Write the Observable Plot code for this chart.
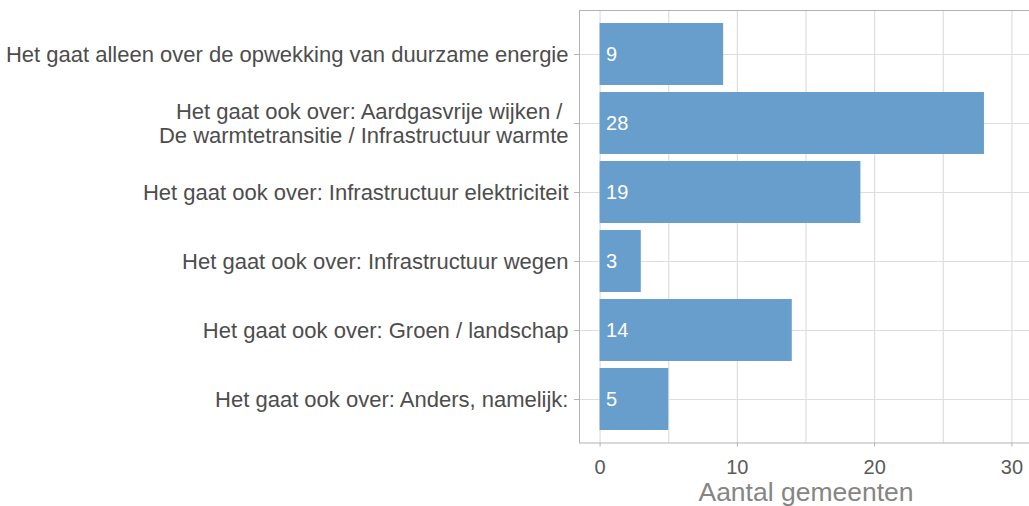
<!DOCTYPE html>
<html>
<head>
<meta charset="utf-8">
<script src="https://cdn.jsdelivr.net/npm/d3@7"></script>
<script src="https://cdn.jsdelivr.net/npm/@observablehq/plot@0.6"></script>
<style>
  html, body { margin: 0; padding: 0; background: #fff; overflow: hidden; }
  #chart svg { display: block; }
</style>
</head>
<body>
<div id="chart"></div>
<script>
const categories = [
  "Het gaat alleen over de opwekking van duurzame energie",
  "Het gaat ook over: Aardgasvrije wijken /\u00a0\nDe warmtetransitie / Infrastructuur warmte",
  "Het gaat ook over: Infrastructuur elektriciteit",
  "Het gaat ook over: Infrastructuur wegen",
  "Het gaat ook over: Groen / landschap",
  "Het gaat ook over: Anders, namelijk:"
];
const values = [9, 28, 19, 3, 14, 5];
const xTicks = [0, 10, 20, 30];
const xGrid = [0, 5, 10, 15, 20, 25, 30];
const xTitle = "Aantal gemeenten";

const data = categories.map((c, i) => ({category: c, value: values[i]}));

const font = "'Liberation Sans', Arial, sans-serif";
const chart = Plot.plot({
  width: 1029,
  height: 506,
  marginLeft: 579,
  marginRight: -3,
  marginTop: 10,
  marginBottom: 63.5,
  style: {fontFamily: font, background: "#ffffff", overflow: "hidden"},
  x: {domain: [-1.5, 31.5]},
  y: {domain: categories, paddingInner: 0.1, paddingOuter: 0.15},
  marks: [
    Plot.ruleX(xGrid, {stroke: "#dedede", strokeWidth: 1.2}),
    Plot.ruleY(categories, {y: d => d, stroke: "#dedede", strokeWidth: 1.2}),
    Plot.barX(data, {x1: 0, x2: "value", y: "category", fill: "#679ecb"}),
    Plot.text(data, {x: 0, y: "category", text: d => String(d.value), dx: 6, textAnchor: "start", fill: "#ffffff", fontSize: 20}),
    Plot.frame({stroke: "#b3b3b3", strokeWidth: 1}),
    Plot.axisX({ticks: xTicks, tickSize: 4, tickPadding: 13, fontSize: 20, color: "#5a5a5a", stroke: "#b3b3b3", label: null}),
    Plot.axisY({tickSize: 5, tickPadding: 6, fontSize: 22, lineHeight: 1.1, color: "#4d4d4d", stroke: "#b3b3b3", label: null}),
    Plot.text([xTitle], {frameAnchor: "bottom", dy: 49.5, text: d => d, fontSize: 26.5, fill: "#858585", lineAnchor: "middle"})
  ]
});
document.getElementById("chart").appendChild(chart);
</script>
</body>
</html>
